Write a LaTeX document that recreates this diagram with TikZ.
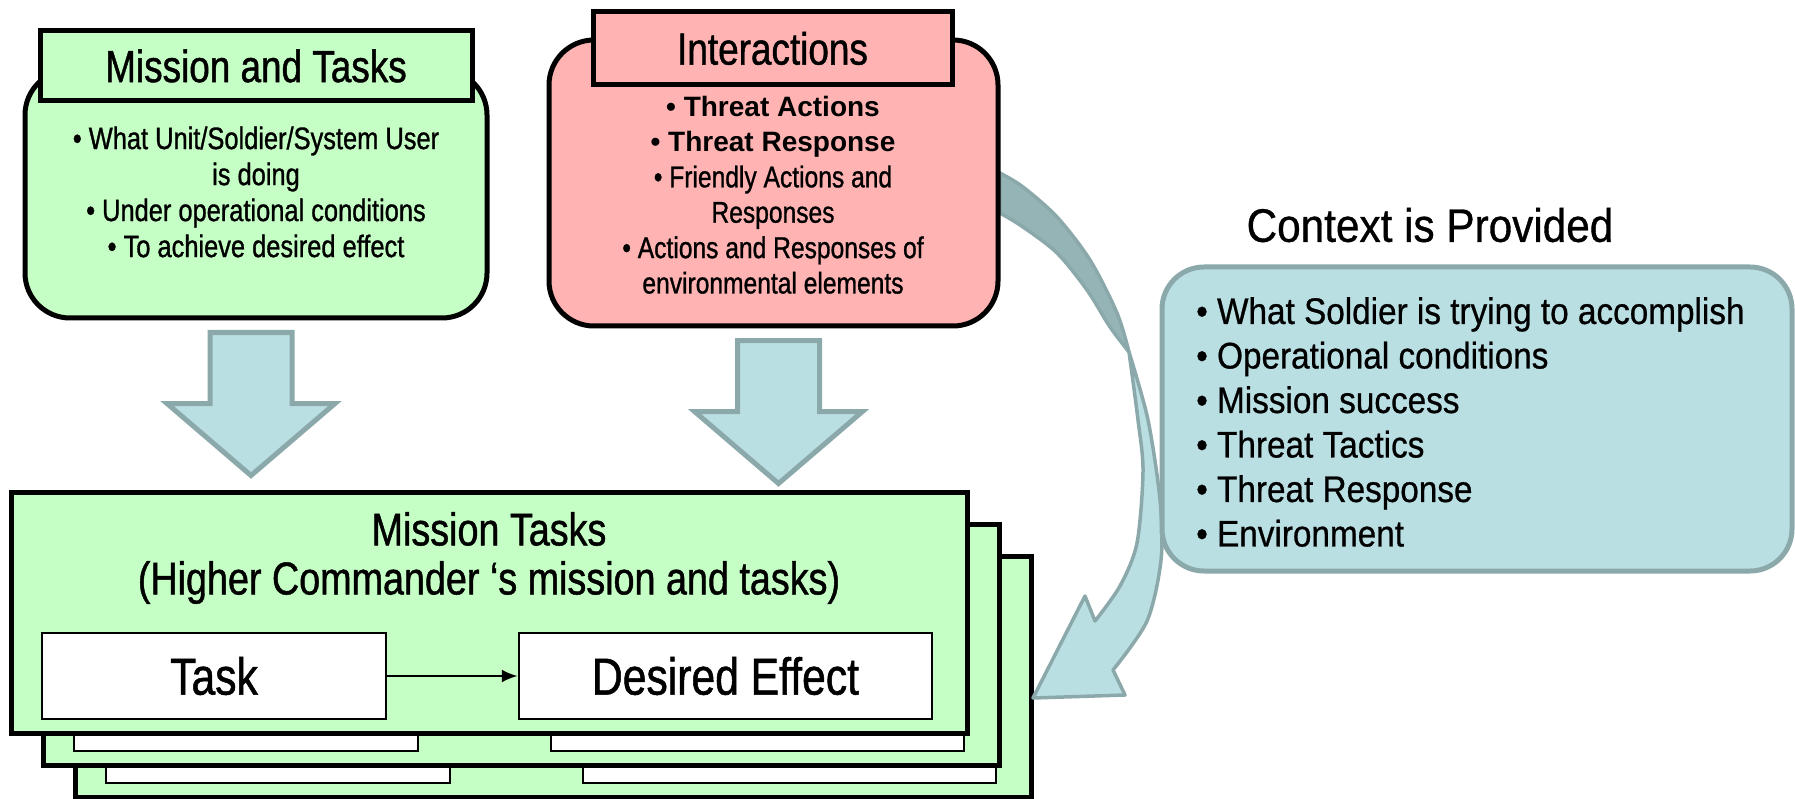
\documentclass[tikz,border=0pt]{standalone}
\usepackage{fontspec}
\setmainfont{Liberation Sans}[FakeStretch=0.82,FakeBold=1]
\newfontfamily\widefont{Liberation Sans}
\newfontfamily\ctxfont{Liberation Sans}[FakeStretch=0.9,FakeBold=0.7]
\usetikzlibrary{arrows.meta}
\usetikzlibrary{positioning}

\definecolor{boxgreen}{RGB}{197,255,197}
\definecolor{boxpink}{RGB}{255,179,179}
\definecolor{boxblue}{RGB}{186,223,227}
\definecolor{blueline}{RGB}{139,168,171}
\definecolor{bandfill}{RGB}{148,180,181}

\begin{document}
\begin{tikzpicture}[x=1pt,y=-1pt,
  topbox/.style={draw=black,line width=5pt,rounded corners=45pt,inner sep=0pt},
  header/.style={draw=black,line width=5pt,inner sep=0pt,font=\fontsize{45}{50}\selectfont},
  txt/.style={inner sep=0pt,align=center},
  layer/.style={draw=black,fill=boxgreen,line width=5pt,inner sep=0pt,minimum width=956pt,minimum height=241pt},
  inbox/.style={draw=black,fill=white,line width=2.5pt,inner sep=0pt,minimum height=86pt,font=\fontsize{52}{56}\selectfont},
  blockarrow/.style={draw=blueline,fill=boxblue,line width=5pt,line join=miter},
  curvearrow/.style={draw=blueline,fill=boxblue,line width=3.5pt,line join=round}]

\useasboundingbox (0,0) rectangle (1795,799);

% stack of mission tasks, back to front
\foreach \d/\n in {64/3,32/2} {
  \node[layer] (layer\n) at (489+\d,612.5+\d) {};
  \node[inbox,minimum width=344pt] (task\n) at (214+\d,676+\d) {};
  \node[inbox,minimum width=413pt] (effect\n) at (725.5+\d,676+\d) {};
}
\node[layer] (layer1) at (489,612.5) {};
\node[txt,font=\fontsize{46}{49}\selectfont] (mtitle) at (489,558) {Mission Tasks\\(Higher Commander ‘s mission and tasks)};
\node[inbox,minimum width=344pt] (task1) at (214,676) {Task};
\node[inbox,minimum width=413pt] (effect1) at (725.5,676) {Desired Effect};
\draw[-{Latex[length=16pt,width=13pt]},line width=2.5pt] (task1) -- (effect1);

% curved arrow
\filldraw[curvearrow,fill=bandfill] plot[smooth] coordinates {(1000,173) (1023,187) (1057,217) (1090,260) (1117,313) (1129,352)}
  -- plot[smooth] coordinates {(1129,352) (1110,327) (1087,290) (1057,253) (1023,227) (1000,213)} -- cycle;
\filldraw[curvearrow] plot[smooth] coordinates {(1129,352) (1148,420) (1160,500) (1161,560) (1147,621) (1113,670)}
  -- (1125,695) -- (1033,698) -- (1085,596)
  -- plot[smooth] coordinates {(1095,621) (1120,586) (1137,543) (1143,471) (1138,420) (1129,352)} -- cycle;

% mission and tasks
\node[topbox,fill=boxgreen,minimum width=462pt,minimum height=248pt] (mt) at (256,194) {};
\node[header,fill=boxgreen,minimum width=432pt,minimum height=70pt] (mth) at (256,66) {Mission and Tasks};
\node[txt,font=\fontsize{31}{36}\selectfont] (mttext) at (256,192) {• What Unit/Soldier/System User\\is doing\\• Under operational conditions\\• To achieve desired effect};

% interactions
\node[topbox,fill=boxpink,minimum width=449pt,minimum height=286pt] (ia) at (773.5,183) {};
\node[header,fill=boxpink,minimum width=359pt,minimum height=73pt] (iah) at (772.5,48.5) {Interactions};
\node[txt,font=\fontsize{30}{35.4}\selectfont] (iatext) at (773,195) {{\widefont\bfseries\fontsize{28}{35.4}\selectfont • Threat Actions}\\{\widefont\bfseries\fontsize{28}{35.4}\selectfont • Threat Response}\\• Friendly Actions and\\Responses\\• Actions and Responses of\\environmental elements};

% block arrows down
\foreach \b/\s in {mt/-5,ia/5} {
  \path (\b.south) ++(\s,12) coordinate (d\b);
  \draw[blockarrow] (d\b) ++(-41,0) -- ++(82,0) -- ++(0,71) -- ++(43,0) -- ++(-84,72) -- ++(-84,-72) -- ++(43,0) -- cycle;
}

% context
\node[topbox,draw=blueline,fill=boxblue,rounded corners=42pt,minimum width=630pt,minimum height=304pt] (ctx) at (1477,419) {};
\node[txt,font=\ctxfont\fontsize{47}{52}\selectfont,above=22pt of ctx,xshift=-47pt] (ctitle) {Context is Provided};
\node[txt,align=left,anchor=west,font=\ctxfont\fontsize{37}{44.5}\selectfont] (ctxtext) at (1196,422) {• What Soldier is trying to accomplish\\• Operational conditions\\• Mission success\\• Threat Tactics\\• Threat Response\\• Environment};
\end{tikzpicture}
\end{document}
